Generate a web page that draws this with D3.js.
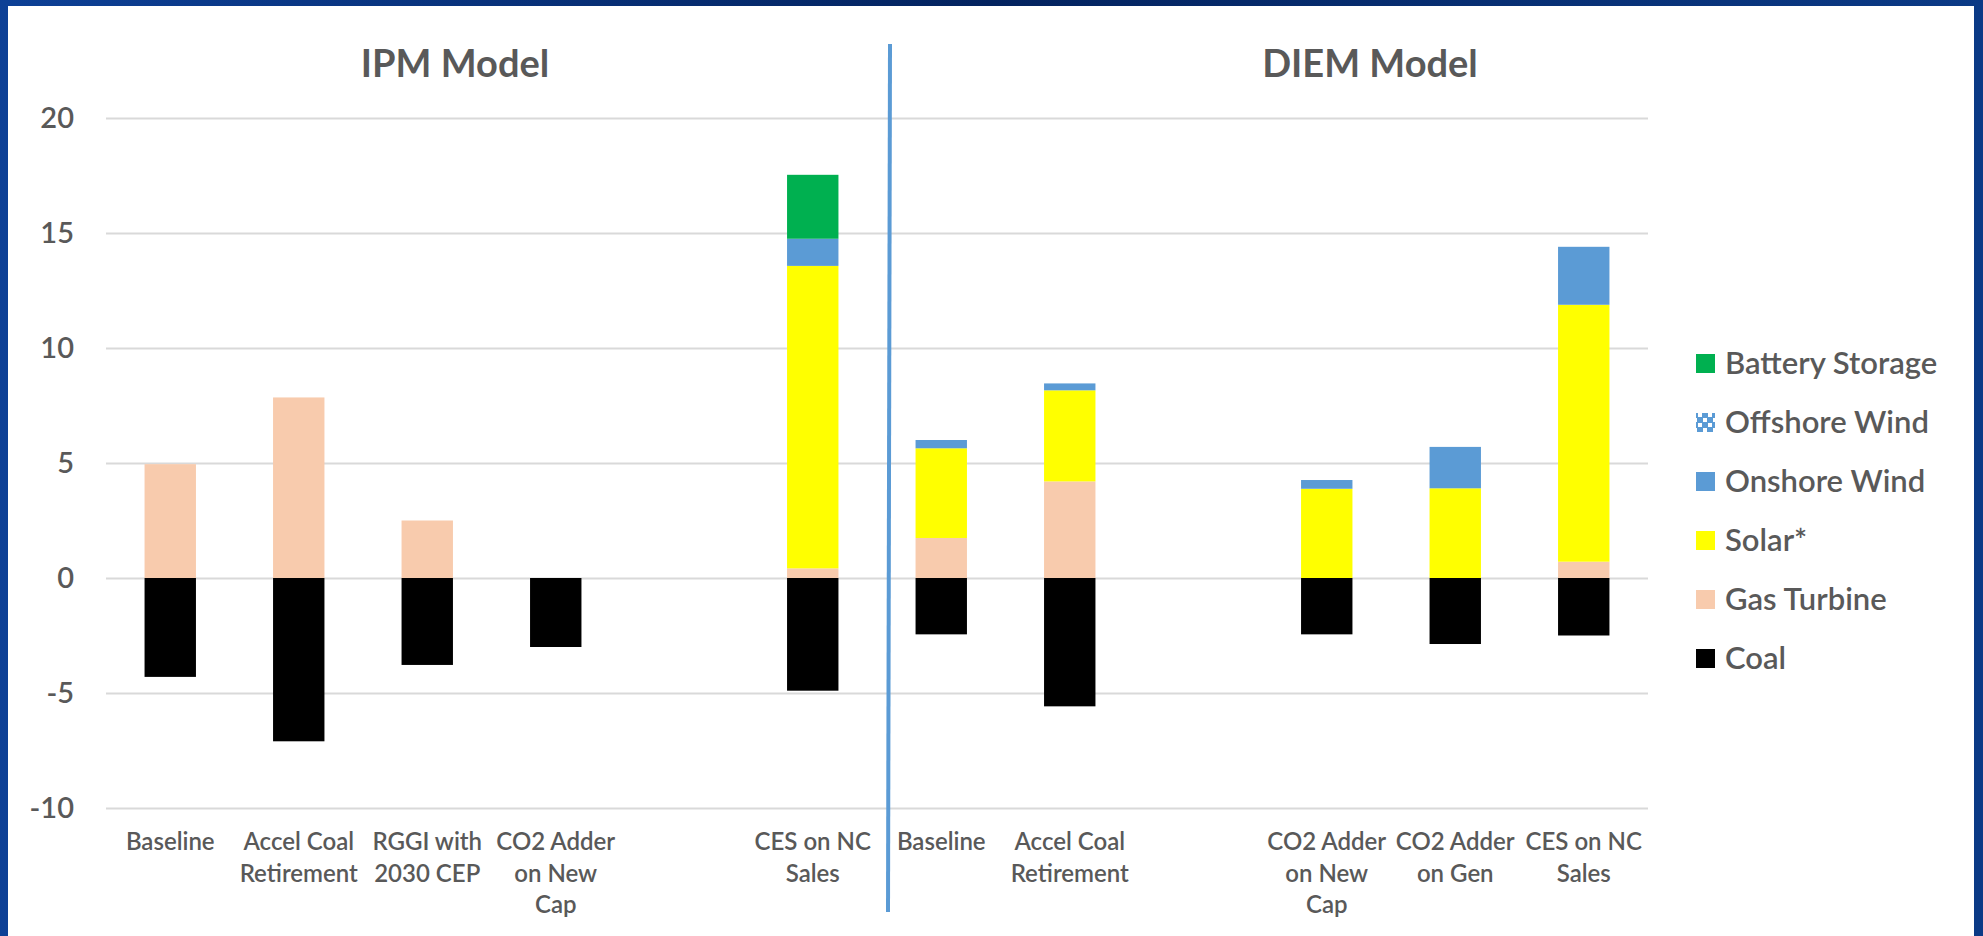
<!DOCTYPE html>
<html>
<head>
<meta charset="utf-8">
<script src="https://cdn.jsdelivr.net/npm/d3@7"></script>
<style>
  html, body { margin: 0; padding: 0; background: #0a2f6e; }
  svg { display: block; }
  text { font-family: Lato, "Open Sans", "Liberation Sans", sans-serif; }
</style>
</head>
<body>
<svg id="chart" width="1983" height="936"></svg>
<script>
// ---- data ----
const categories = [
  "Baseline", "Accel Coal\nRetirement", "RGGI with\n2030 CEP", "CO2 Adder\non New\nCap", "",
  "CES on NC\nSales", "Baseline", "Accel Coal\nRetirement", "", "CO2 Adder\non New\nCap",
  "CO2 Adder\non Gen", "CES on NC\nSales"
];
const seriesNames = ["Coal", "Gas Turbine", "Solar*", "Onshore Wind", "Offshore Wind", "Battery Storage"];
const coal     = [-4.3, -7.1, -3.78, -3.0, 0, -4.9, -2.45, -5.58, 0, -2.45, -2.87, -2.5];
const gas      = [4.95, 7.85, 2.5, 0, 0, 0.42, 1.74, 4.2, 0, 0, 0, 0.71];
const solar    = [0, 0, 0, 0, 0, 13.15, 3.9, 3.96, 0, 3.88, 3.9, 11.17];
const onshore  = [0, 0, 0, 0, 0, 1.18, 0.36, 0.3, 0, 0.38, 1.8, 2.52];
const offshore = [0, 0, 0, 0, 0, 0, 0, 0, 0, 0, 0, 0];
const battery  = [0, 0, 0, 0, 0, 2.78, 0, 0, 0, 0, 0, 0];
const yTicks = [-10, -5, 0, 5, 10, 15, 20];
const panelTitles = ["IPM Model", "DIEM Model"];

const seriesValues = [coal, gas, solar, onshore, offshore, battery];
const colors = ["#000000", "#F8CBAD", "#FFFF00", "#5B9BD5", "url(#offshorePat)", "#00B050"];

// ---- layout ----
const svg = d3.select("#chart");
const W = 1983, H = 936;
const plot = { left: 106, right: 1648, top: 118, bottom: 808 };
const textColor = "#595959";

// background frame
const defs = svg.append("defs");
const bg = defs.append("linearGradient").attr("id", "bgGrad").attr("x1", 0).attr("x2", 1).attr("y1", 0).attr("y2", 0);
bg.append("stop").attr("offset", "0%").attr("stop-color", "#0d4096");
bg.append("stop").attr("offset", "50%").attr("stop-color", "#03235f");
bg.append("stop").attr("offset", "100%").attr("stop-color", "#0b3a86");
svg.append("rect").attr("width", W).attr("height", H).attr("fill", "url(#bgGrad)");
svg.append("rect").attr("x", 8).attr("y", 6).attr("width", 1966).attr("height", H - 6).attr("fill", "#ffffff");

// offshore pattern
const pat = defs.append("pattern").attr("id", "offshorePat").attr("patternUnits", "userSpaceOnUse")
  .attr("width", 10).attr("height", 10);
pat.append("rect").attr("width", 10).attr("height", 10).attr("fill", "#5B9BD5");
pat.append("rect").attr("x", 0).attr("y", 3).attr("width", 2).attr("height", 4).attr("fill", "#ffffff");
pat.append("rect").attr("x", 8).attr("y", 3).attr("width", 2).attr("height", 4).attr("fill", "#ffffff");
pat.append("rect").attr("x", 3).attr("y", 0).attr("width", 4).attr("height", 2).attr("fill", "#ffffff");
pat.append("rect").attr("x", 3).attr("y", 8).attr("width", 4).attr("height", 2).attr("fill", "#ffffff");

// scales
const x = d3.scaleBand().domain(d3.range(categories.length))
  .range([plot.left, plot.right]).paddingInner(0.6).paddingOuter(0.3);
const y = d3.scaleLinear().domain([-10, 20]).range([plot.bottom, plot.top]);

// gridlines + y tick labels
const yAxis = d3.axisLeft(y).tickValues(yTicks).tickSize(-(plot.right - plot.left)).tickPadding(32)
  .tickFormat(d => String(d));
const gy = svg.append("g").attr("transform", `translate(${plot.left},0)`).call(yAxis);
gy.select(".domain").remove();
gy.selectAll(".tick line").attr("stroke", "#D9D9D9").attr("stroke-width", 2);
gy.selectAll(".tick text").attr("fill", textColor).attr("font-size", 29).attr("font-weight", 600)
  .attr("font-family", "Lato, sans-serif");

// stacked data
const table = categories.map((c, i) => {
  const row = { i };
  seriesNames.forEach((s, k) => row[s] = seriesValues[k][i]);
  return row;
});
const stacked = d3.stack().keys(seriesNames).offset(d3.stackOffsetDiverging)(table);

svg.append("g").selectAll("g").data(stacked).join("g")
  .attr("fill", (d, k) => colors[k])
  .selectAll("rect").data(d => d.filter(p => p[1] !== p[0])).join("rect")
  .attr("x", d => x(d.data.i))
  .attr("width", x.bandwidth())
  .attr("y", d => y(Math.max(d[0], d[1])))
  .attr("height", d => Math.abs(y(d[0]) - y(d[1])));

// category labels
const xAxisG = svg.append("g");
categories.forEach((c, i) => {
  if (!c) return;
  const cx = x(i) + x.bandwidth() / 2;
  const t = xAxisG.append("text")
    .attr("x", cx)
    .attr("y", 850)
    .attr("text-anchor", "middle")
    .attr("fill", textColor)
    .attr("font-size", 24)
    .attr("font-weight", 600);
  c.split("\n").forEach((line, li) => {
    t.append("tspan").attr("x", cx).attr("dy", li === 0 ? 0 : 31.5).text(line);
  });
});

// divider line
svg.append("line").attr("x1", 890).attr("x2", 888).attr("y1", 44).attr("y2", 912)
  .attr("stroke", "#5B9BD5").attr("stroke-width", 4);

// panel titles
svg.append("text").attr("x", 455).attr("y", 77).attr("text-anchor", "middle")
  .attr("fill", textColor).attr("font-size", 38).attr("font-weight", 700).text(panelTitles[0]);
svg.append("text").attr("x", 1370).attr("y", 77).attr("text-anchor", "middle")
  .attr("fill", textColor).attr("font-size", 38).attr("font-weight", 700).text(panelTitles[1]);

// legend (reverse order)
const legendOrder = d3.range(seriesNames.length).reverse();
const lg = svg.append("g");
legendOrder.forEach((k, r) => {
  const cy = 363 + r * 59;
  lg.append("rect").attr("x", 1696).attr("y", cy - 9).attr("width", 19).attr("height", 19)
    .attr("fill", colors[k]);
  lg.append("text").attr("x", 1725).attr("y", cy + 11)
    .attr("fill", textColor).attr("font-size", 31).attr("font-weight", 600).text(seriesNames[k]);
});
</script>
</body>
</html>
